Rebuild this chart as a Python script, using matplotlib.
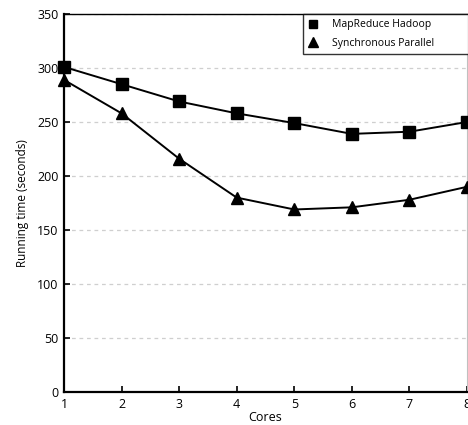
import matplotlib
matplotlib.use("Agg")
import matplotlib.pyplot as plt
from matplotlib.lines import Line2D

plt.rcParams['font.family'] = ['Open Sans', 'DejaVu Sans']

cores = [1, 2, 3, 4, 5, 6, 7, 8]
mapreduce = [301, 285, 269, 258, 249, 239, 241, 250]
sync_parallel = [289, 258, 216, 180, 169, 171, 178, 190]
series_labels = ["MapReduce Hadoop", "Synchronous Parallel"]

fig = plt.figure(figsize=(4.68, 4.25), dpi=100)
ax = fig.add_axes([64/468, 33/425, 403/468, 378/425])

ax.plot(cores, mapreduce, color='black', lw=1.4, marker='s', ms=8, clip_on=False, zorder=3)
ax.plot(cores, sync_parallel, color='black', lw=1.4, marker='^', ms=9, clip_on=False, zorder=3)

ax.set_xlim(1, 8)
ax.set_ylim(0, 350)
ax.set_xticks(cores)
ax.set_yticks(range(0, 351, 50))
ax.yaxis.grid(True, linestyle=(0, (3, 3)), color='#cfcfcf', lw=0.9)
ax.set_axisbelow(True)

ax.tick_params(direction='in', length=4, width=1.2, labelsize=9, pad=4)
for side in ['left', 'bottom']:
    ax.spines[side].set_linewidth(1.6)
ax.spines['top'].set_linewidth(1.0)
ax.spines['right'].set_color('#c0c0c0')
ax.spines['right'].set_linewidth(0.8)

ax.set_xlabel("Cores", fontsize=9, labelpad=0)
ax.set_ylabel("Running time (seconds)", fontsize=8.5, labelpad=6)

handles = [
    Line2D([], [], color='black', marker='s', ls='none', ms=6),
    Line2D([], [], color='black', marker='^', ls='none', ms=7),
]
# legend box runs past the right edge of the figure, as in the reference
leg = ax.legend(handles, series_labels, loc='upper left', mode='expand',
                bbox_to_anchor=((303 - 64) / 403, 0.0, 0.45, 1.0),
                borderaxespad=0, fontsize=7.5, frameon=True, fancybox=False,
                edgecolor='black', handlelength=1.0, handletextpad=1.3,
                labelspacing=0.75, borderpad=0.5)
leg.get_frame().set_linewidth(1.0)

fig.savefig("out.png", dpi=100)
